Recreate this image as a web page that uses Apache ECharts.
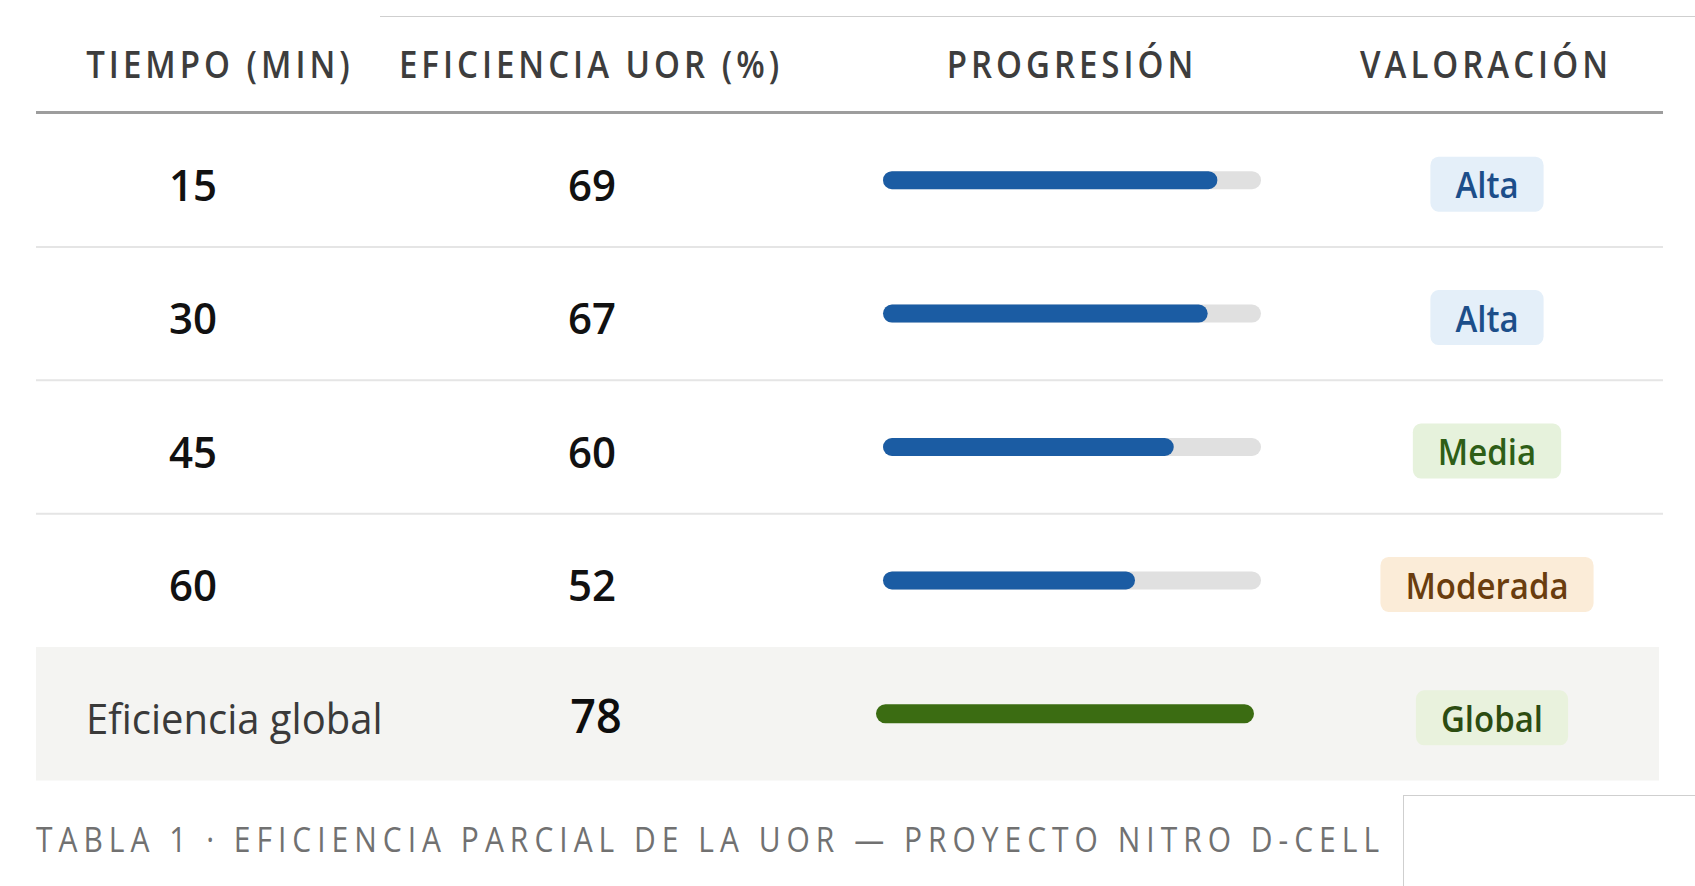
<!DOCTYPE html>
<html>
<head>
<meta charset="utf-8">
<script src="https://cdn.jsdelivr.net/npm/echarts@6/dist/echarts.min.js"></script>
<style>
html,body{margin:0;padding:0;background:#fff;}
#chart{width:1695px;height:886px;}
</style>
</head>
<body>
<div id="chart"></div>
<script>
// ---- data ----
const headers = ['TIEMPO (MIN)', 'EFICIENCIA UOR (%)', 'PROGRESIÓN', 'VALORACIÓN'];
const tiempos = ['15', '30', '45', '60'];
const eficiencia = [69, 67, 60, 52];
const valoracion = ['Alta', 'Alta', 'Media', 'Moderada'];
const globalLabel = 'Eficiencia global';
const globalValue = 78;
const globalTag = 'Global';
const caption = 'TABLA 1 · EFICIENCIA PARCIAL DE LA UOR — PROYECTO NITRO D-CELL';

// ---- derived rows ----
const rowLabels = tiempos.concat([globalLabel]);
const rowValues = eficiencia.concat([globalValue]);
const rowTags = valoracion.concat([globalTag]);
const rowIdx = rowLabels.map((_, i) => i);
const lastRow = rowLabels.length - 1;

// ---- styles ----
const FONT = '"Open Sans", "Noto Sans", sans-serif';
const tagStyles = {
  'Alta': { bg: '#e4eff9', fg: '#1c4e8a' },
  'Media': { bg: '#e6f2dc', fg: '#2e5e17' },
  'Moderada': { bg: '#fbecd8', fg: '#6a3d0e' },
  'Global': { bg: '#e9f2dd', fg: '#2c4c11' }
};
const colX = [193, 592, 1072, 1487];
const headX = [220, 591, 1072, 1486];
const tableL = 36, tableR = 1663;
const gridTop = 113.5, gridH = 667;

const chart = echarts.init(document.getElementById('chart'), null, { renderer: 'svg' });

const option = {
  animation: false,
  backgroundColor: '#ffffff',
  grid: [
    { left: 883, width: 378, top: gridTop, height: gridH, containLabel: false },
    { left: 876, width: 378, top: gridTop, height: gridH, containLabel: false }
  ],
  xAxis: [
    { type: 'value', min: 0, max: globalValue, show: false, gridIndex: 0 },
    { type: 'value', min: 0, max: globalValue, show: false, gridIndex: 1 }
  ],
  yAxis: [
    { type: 'category', data: rowLabels, inverse: true, show: false, gridIndex: 0 },
    { type: 'category', data: rowLabels, inverse: true, show: false, gridIndex: 1 }
  ],
  graphic: [
    // artefact lines of the source picture
    { type: 'line', shape: { x1: 380, y1: 16.5, x2: 1695, y2: 16.5 }, style: { stroke: '#cfcfcf', lineWidth: 1 }, z: 10 },
    { type: 'line', shape: { x1: 1403.5, y1: 795, x2: 1403.5, y2: 886 }, style: { stroke: '#cfcfcf', lineWidth: 1 }, z: 10 },
    { type: 'line', shape: { x1: 1403, y1: 795.5, x2: 1695, y2: 795.5 }, style: { stroke: '#cfcfcf', lineWidth: 1 }, z: 10 },
    // header underline
    { type: 'line', shape: { x1: tableL, y1: 112.5, x2: tableR, y2: 112.5 }, style: { stroke: '#9d9d9d', lineWidth: 3 }, z: 10 }
  ].concat(headers.map((h, i) => ({
    type: 'text', x: headX[i], y: 63, scaleY: 1.14, z: 10,
    style: { text: h, fill: '#3d3d3d', font: '600 33px ' + FONT, textAlign: 'center', textVerticalAlign: 'middle' }
  }))).concat([{
    type: 'text', x: tableL, y: 838, scaleY: 1.15, z: 10,
    style: { text: caption, fill: '#717171', font: '400 30px ' + FONT, textAlign: 'left', textVerticalAlign: 'middle' }
  }]),
  series: [
    {
      // row backgrounds and separators
      type: 'custom', z: 0, silent: true,
      data: rowIdx.map(i => [0, i]),
      encode: { x: 0, y: 1 },
      renderItem: function (params, api) {
        const i = api.value(1);
        const c = api.coord([0, i]);
        const h = api.size([0, 1])[1];
        const top = c[1] - h / 2, bot = c[1] + h / 2;
        const children = [];
        if (i === lastRow) {
          children.push({ type: 'rect', shape: { x: tableL, y: top, width: 1659 - tableL, height: h }, style: { fill: '#f4f4f2' } });
        } else if (i < lastRow - 1) {
          children.push({ type: 'line', shape: { x1: tableL, y1: bot, x2: tableR, y2: bot }, style: { stroke: '#e5e5e5', lineWidth: 2 } });
        }
        return { type: 'group', children: children };
      }
    },
    {
      // grey track (full scale) behind partial bars
      type: 'bar', z: 1, xAxisIndex: 0, yAxisIndex: 0, silent: true,
      data: rowValues.map((v, i) => (i === lastRow ? '-' : globalValue)),
      barWidth: 18, barGap: '-100%',
      itemStyle: { color: '#e0e0e0', borderRadius: 9 }
    },
    {
      // partial efficiency bars
      type: 'bar', z: 2, xAxisIndex: 0, yAxisIndex: 0,
      data: rowValues.map((v, i) => (i === lastRow ? '-' : v)),
      barWidth: 18, barGap: '-100%',
      itemStyle: { color: '#1b5ca3', borderRadius: 9 }
    },
    {
      // global efficiency bar
      type: 'bar', z: 2, xAxisIndex: 1, yAxisIndex: 1,
      data: rowValues.map((v, i) => (i === lastRow ? v : '-')),
      barWidth: 19,
      itemStyle: { color: '#3b6c12', borderRadius: 9.5 }
    },
    {
      // text cells and badges
      type: 'custom', z: 5, silent: true,
      data: rowIdx.map(i => [0, i]),
      encode: { x: 0, y: 1 },
      renderItem: function (params, api) {
        const i = api.value(1);
        const base = api.coord([0, i])[1];
        const isGlobal = i === lastRow;
        const ts = tagStyles[rowTags[i]];
        const children = [];
        if (isGlobal) {
          children.push({ type: 'text', x: 86, y: base + 4, scaleY: 1.06,
            style: { text: rowLabels[i], fill: '#3a3a3a', font: '500 40px ' + FONT, textAlign: 'left', textVerticalAlign: 'middle' } });
          children.push({ type: 'text', x: colX[1] + 4, y: base + 1, scaleY: 1.06,
            style: { text: String(rowValues[i]), fill: '#0d0d0d', font: '600 45px ' + FONT, textAlign: 'center', textVerticalAlign: 'middle' } });
        } else {
          children.push({ type: 'text', x: colX[0], y: base + 4, scaleY: 1.05,
            style: { text: rowLabels[i], fill: '#111111', font: '600 42px ' + FONT, textAlign: 'center', textVerticalAlign: 'middle' } });
          children.push({ type: 'text', x: colX[1], y: base + 4, scaleY: 1.05,
            style: { text: String(rowValues[i]), fill: '#111111', font: '600 42px ' + FONT, textAlign: 'center', textVerticalAlign: 'middle' } });
        }
        children.push({ type: 'text', x: isGlobal ? colX[3] + 5 : colX[3], y: base + 4, scaleY: 1.1,
          style: { text: rowTags[i], fill: ts.fg, font: '600 33px ' + FONT, textAlign: 'center', textVerticalAlign: 'middle',
            backgroundColor: ts.bg, padding: [9, 25, 8, 25], borderRadius: 8, lineHeight: 33 } });
        return { type: 'group', children: children };
      }
    }
  ]
};

chart.setOption(option);

// letter spacing for header and caption (svg text)
function spacing() {
  const texts = document.querySelectorAll('#chart text');
  texts.forEach(t => {
    const s = t.textContent;
    if (headers.indexOf(s) >= 0) t.style.letterSpacing = '4px';
    else if (s === caption) t.style.letterSpacing = '6px';
  });
}
spacing();
chart.on('finished', spacing);
</script>
</body>
</html>
